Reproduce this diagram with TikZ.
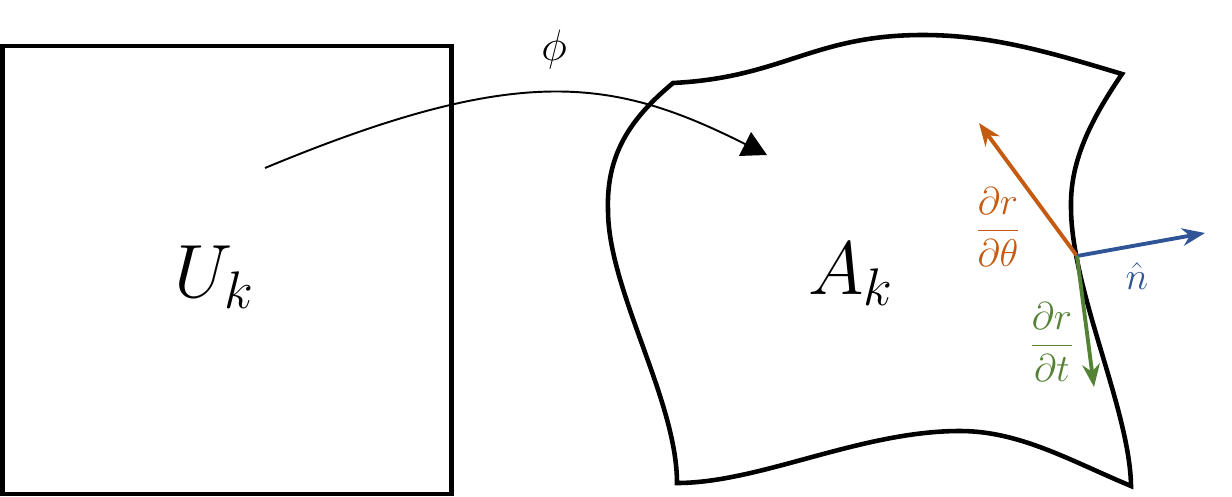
\RequirePackage{fix-cm}
\documentclass[tikz,border=0pt]{standalone}
\usepackage{amsmath}
\usepackage{tikz}
\usetikzlibrary{arrows.meta}
\definecolor{dtheta}{HTML}{C55A11}
\definecolor{dnorm}{HTML}{2F5597}
\definecolor{dtime}{HTML}{548235}
\tikzset{
  edge/.style={line width=2.6pt,line join=miter},
  vec/.style={line width=2.2pt,-{Stealth[length=13pt,width=10pt]}},
  big/.style={font=\fontsize{43}{47}\selectfont},
  small/.style={font=\fontsize{22}{26}\selectfont}
}

\begin{document}
\begin{tikzpicture}[x=0.02cm,y=-0.02cm]
\useasboundingbox (0,0) rectangle (1232,497);
% the chart
\draw[edge] (2.3,46) rectangle (451.7,494);
\node[big] (1) at (214,277) {$U_k$};
% the patch
\coordinate (tl) at (673,83);
\coordinate (tr) at (1122,74);
\coordinate (br) at (1131,486);
\coordinate (bl) at (677,483);
\draw[edge] (tl) .. controls (783,77.5) and (813,35) .. (923,35)
  .. controls (993,35) and (1052,53) .. (tr)
  .. controls (1092,118) and (1070,160) .. (1071,207)
  .. controls (1071,290) and (1130,410) .. (br)
  .. controls (1071,461) and (1020,431) .. (960,431)
  .. controls (860,431) and (760,483) .. (bl)
  .. controls (677,400) and (608,290) .. (608,210)
  .. controls (606,150) and (635,115) .. cycle;
\node[big] (2) at (851,274) {$A_k$};
% the map
\coordinate (s) at (265,168);
\coordinate (e) at (767,155);
\draw[line width=1.1pt,-{Triangle[length=14pt,width=15pt]}] (s) .. controls (520,62) and (613.5,78) .. (e);
\node[font=\fontsize{25}{30}\selectfont] (3) at (554,50) {$\phi$};
% vectors at p
\coordinate (p) at (1077,256);
\coordinate (pt) at (979,123);
\coordinate (pn) at (1205,233);
\coordinate (pd) at (1094,387);
\draw[vec,dtheta] (p) -- (pt);
\draw[vec,dnorm] (p) -- (pn);
\draw[vec,dtime] (p) -- (pd);
\node[small,text=dtheta] (4) at (998,227) {$\dfrac{\partial r}{\partial\theta}$};
\node[small,text=dtime] (5) at (1052,342) {$\dfrac{\partial r}{\partial t}$};
\node[small,text=dnorm] (6) at (1137,276) {$\hat{n}$};
\end{tikzpicture}
\end{document}
